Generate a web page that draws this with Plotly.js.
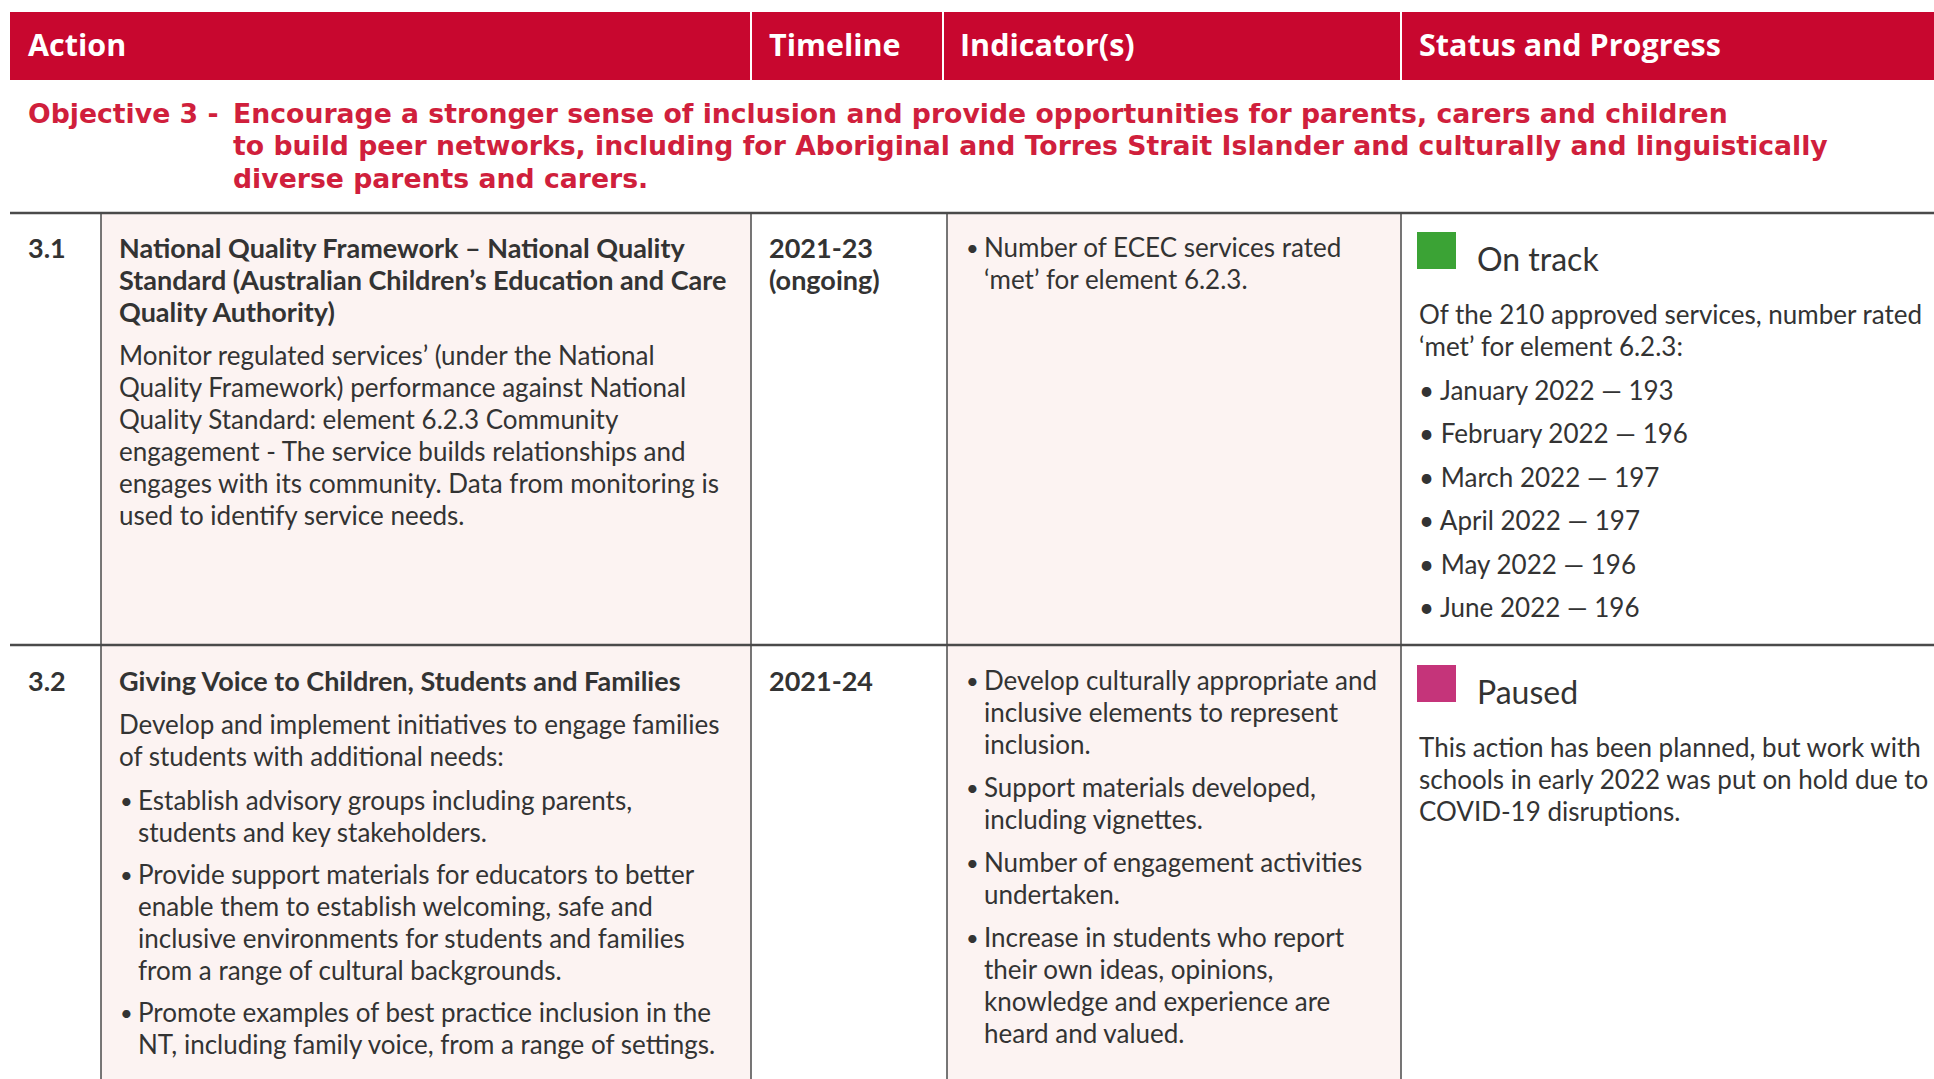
<!DOCTYPE html>
<html>
<head>
<meta charset="utf-8">
<script src="https://cdn.plot.ly/plotly-3.0.1.min.js"></script>
<style>html,body{margin:0;padding:0;background:#fff;}#chart{width:1934px;height:1079px;}</style>
</head>
<body>
<div id="chart"></div>
<script>
// ---------- DATA ----------
const headers = ["Action", "Timeline", "Indicator(s)", "Status and Progress"];
const objectiveLabel = "Objective 3 -";
const objectiveLines = [
  "Encourage a stronger sense of inclusion and provide opportunities for parents, carers and children",
  "to build peer networks, including for Aboriginal and Torres Strait Islander and culturally and linguistically",
  "diverse parents and carers."
];
const actionIds = ["3.1", "3.2"];
const actionTitles = [
  ["National Quality Framework – National Quality", "Standard (Australian Children’s Education and Care", "Quality Authority)"],
  ["Giving Voice to Children, Students and Families"]
];
const actionDescs = [
  ["Monitor regulated services’ (under the National", "Quality Framework) performance against National", "Quality Standard: element 6.2.3 Community", "engagement - The service builds relationships and", "engages with its community. Data from monitoring is", "used to identify service needs."],
  ["Develop and implement initiatives to engage families", "of students with additional needs:"]
];
const actionBullets32 = [
  ["Establish advisory groups including parents,", "students and key stakeholders."],
  ["Provide support materials for educators to better", "enable them to establish welcoming, safe and", "inclusive environments for students and families", "from a range of cultural backgrounds."],
  ["Promote examples of best practice inclusion in the", "NT, including family voice, from a range of settings."]
];
const timelines = [["2021-23", "(ongoing)"], ["2021-24"]];
const indicators = [
  [["Number of ECEC services rated", "‘met’ for element 6.2.3."]],
  [["Develop culturally appropriate and", "inclusive elements to represent", "inclusion."],
   ["Support materials developed,", "including vignettes."],
   ["Number of engagement activities", "undertaken."],
   ["Increase in students who report", "their own ideas, opinions,", "knowledge and experience are", "heard and valued."]]
];
const statuses = ["On track", "Paused"];
const progressIntro31 = ["Of the 210 approved services, number rated", "‘met’ for element 6.2.3:"];
const progressMonths = ["January 2022", "February 2022", "March 2022", "April 2022", "May 2022", "June 2022"];
const progressCounts = [193, 196, 197, 197, 196, 196];
const progressText32 = ["This action has been planned, but work with", "schools in early 2022 was put on hold due to", "COVID-19 disruptions."];

// ---------- STYLE ----------
const RED = "#c8072f", OBJ = "#d01f3c", TXT = "#333333", PINK = "#fcf3f2", LINE = "#4a4a4a";
const statusColors = ["#3ba335", "#c5347a"];
const FONT = "Lato, 'Open Sans', sans-serif";
const HFONT = "'Open Sans', Lato, sans-serif";
const OFONT = "'DejaVu Sans', 'Open Sans', sans-serif";
const BODY = 26, BOLD = 27, LH = 32;

const shapes = [];
const ann = [];
function rect(x0, y0, x1, y1, fill) {
  shapes.push({type: "rect", xref: "x", yref: "y", x0, y0, x1, y1, fillcolor: fill, line: {width: 0}, layer: "below"});
}
function line(x0, y0, x1, y1, color, w) {
  shapes.push({type: "line", xref: "x", yref: "y", x0, y0, x1, y1, line: {color, width: w}});
}
function txt(x, y, t, opts) {
  opts = opts || {};
  ann.push({x, y, xref: "x", yref: "y", text: t, showarrow: false, xanchor: "left", yanchor: "middle",
    font: {family: opts.family || FONT, size: opts.size || BODY, color: opts.color || TXT, weight: opts.weight || 400}});
}
function lines(x, y0, arr, opts) { arr.forEach((t, i) => txt(x, y0 + i * LH, t, opts)); return y0 + arr.length * LH; }

// layout geometry
const colX = [10, 101, 751, 947, 1401, 1934];
const headDiv = [751, 943, 1401];
const rowY = [213, 645, 1079];

// header
rect(10, 12, 1934, 80, RED);
headDiv.forEach(x => line(x, 12, x, 80, "#ffffff", 2));
const headX = [26, 767, 958, 1417];
headers.forEach((h, i) => txt(headX[i], 44, h, {family: HFONT, color: "#ffffff", size: 30.5, weight: 700}));

// objective
txt(26, 113, objectiveLabel, {family: OFONT, color: OBJ, size: 26.7, weight: 700});
objectiveLines.forEach((t, i) => txt(231, 113 + i * 32.5, t, {family: OFONT, color: OBJ, size: 26.7, weight: 700}));

// body fills
rect(colX[1], rowY[0], colX[2], rowY[2], PINK);
rect(colX[3], rowY[0], colX[4], rowY[2], PINK);
// horizontal lines
line(10, rowY[0], 1934, rowY[0], LINE, 2.5);
line(10, rowY[1], 1934, rowY[1], LINE, 2.5);
// vertical lines
[colX[1], colX[2], colX[3], colX[4]].forEach(x => line(x, rowY[0], x, rowY[2], LINE, 1.5));

// rows
const rowTop = [247, 680];
actionIds.forEach((id, r) => {
  const y0 = rowTop[r];
  txt(26, y0, id, {weight: 700, size: BOLD});
  let y = lines(117, y0, actionTitles[r], {weight: 700, size: BOLD});
  y += 12;
  y = lines(117, y, actionDescs[r]);
  if (r === 1) {
    y += 12;
    actionBullets32.forEach(b => {
      txt(118, y, "•", {size: 22});
      y = lines(136, y, b);
      y += 10;
    });
  }
  lines(767, y0, timelines[r], {weight: 700, size: BOLD});
  let yi = y0;
  indicators[r].forEach(b => {
    txt(964, yi, "•", {size: 22});
    yi = lines(982, yi, b);
    yi += 11;
  });
  // status square + label
  rect(1417, y0 - 15, 1456, y0 + 22, statusColors[r]);
  txt(1475, y0 + 11, statuses[r], {size: 32});
});

// progress row 1
lines(1417, 314, progressIntro31);
progressMonths.forEach((m, i) => {
  txt(1417, 390 + i * 43.4, "• " + m + " — " + progressCounts[i]);
});
// progress row 2
lines(1417, 747, progressText32);

const layout = {
  width: 1934, height: 1079,
  margin: {l: 0, r: 0, t: 0, b: 0},
  paper_bgcolor: "#ffffff", plot_bgcolor: "#ffffff",
  xaxis: {range: [0, 1934], visible: false, fixedrange: true},
  yaxis: {range: [1079, 0], visible: false, fixedrange: true},
  shapes: shapes, annotations: ann, showlegend: false
};
Plotly.newPlot("chart", [], layout, {displayModeBar: false, staticPlot: true});
</script>
</body>
</html>
